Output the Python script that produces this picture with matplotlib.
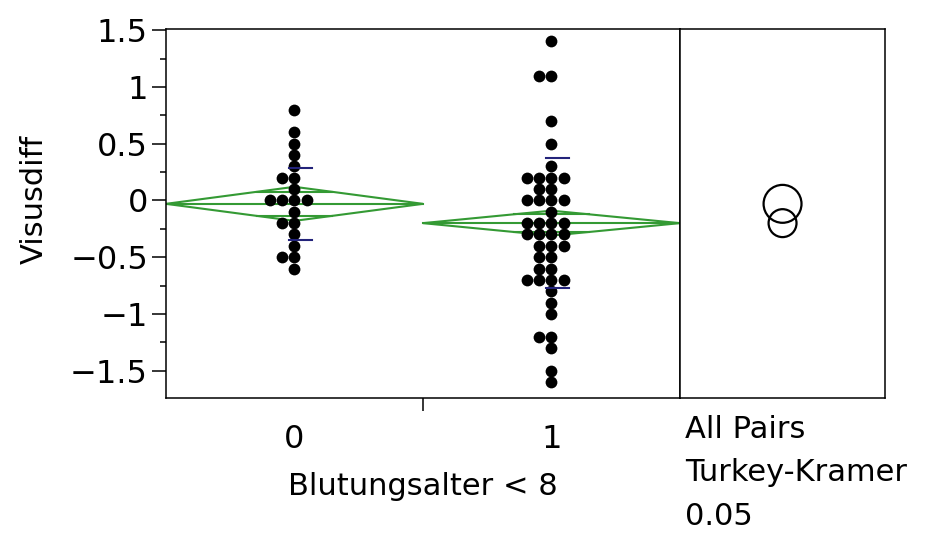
import numpy as np
import matplotlib.pyplot as plt
from matplotlib.patches import Polygon, Circle
from matplotlib.ticker import MultipleLocator, FixedLocator, FuncFormatter

# Visusdiff por grupo de Blutungsalter < 8
grupos = ['0', '1']
visus_0 = [0.8, 0.6, 0.5, 0.4, 0.3, 0.2, 0.2, 0.1, 0.0, 0.0, 0.0, 0.0,
           -0.1, -0.2, -0.2, -0.3, -0.4, -0.5, -0.5, -0.6]
visus_1 = [1.4, 1.1, 1.1, 0.7, 0.5, 0.3, 0.2, 0.2, 0.2, 0.2, 0.1, 0.1,
           0.0, 0.0, 0.0, 0.0, -0.1, -0.2, -0.2, -0.2, -0.2,
           -0.3, -0.3, -0.3, -0.3, -0.4, -0.4, -0.4, -0.5, -0.5,
           -0.6, -0.6, -0.7, -0.7, -0.7, -0.7, -0.8, -0.9, -1.0,
           -1.2, -1.2, -1.3, -1.5, -1.6]

# resumo de cada grupo (media, meia largura do IC 95%, desvio padrao)
medias = [-0.03, -0.20]
ic_meia = [0.15, 0.11]
desvios = [0.32, 0.57]
# raios dos circulos de comparacao (Tukey-Kramer)
raios = [0.167, 0.123]

verde = '#349a34'
azul = '#23237a'


def espalhar(valores, passo=0.047):
    # pontos com o mesmo valor ficam lado a lado
    desloc = np.zeros(len(valores))
    contagem = {}
    for i, v in enumerate(valores):
        k = contagem.get(v, 0)
        contagem[v] = k + 1
        sinal = -1 if k % 2 else 1
        desloc[i] = sinal * ((k + 1) // 2) * passo
    return desloc


fig = plt.figure(figsize=(9.35, 5.33), dpi=100)
ax = fig.add_axes([0.1775, 0.2533, 0.5497, 0.6923])
ax_c = fig.add_axes([0.7273, 0.2533, 0.2193, 0.6923])

centros = [0.5, 1.5]
for c, vals, m, h, s in zip(centros, [visus_0, visus_1], medias, ic_meia, desvios):
    # diamante da media
    diamante = Polygon([(c - 0.5, m), (c, m + h), (c + 0.5, m), (c, m - h)],
                       closed=True, fill=False, edgecolor=verde, lw=1.5, zorder=2)
    ax.add_patch(diamante)
    ax.plot([c - 0.5, c + 0.5], [m, m], color=verde, lw=1.5, zorder=2)
    # overlap marks
    d = 0.5 * (1 - 1 / np.sqrt(2))
    for y in (m + h / np.sqrt(2), m - h / np.sqrt(2)):
        ax.plot([c - d, c + d], [y, y], color=verde, lw=1.5, zorder=2)
    # pontos
    ax.scatter(c + espalhar(vals), vals, s=72, color='black', zorder=3, linewidths=0)
    # desvio padrao
    for y in (m + s, m - s):
        ax.plot([c - 0.02, c + 0.07], [y, y], color=azul, lw=1.5, zorder=4)

ax.set_xlim(0, 2)
ax.set_ylim(-1.74, 1.51)
ax.yaxis.set_major_locator(MultipleLocator(0.5))
ax.yaxis.set_minor_locator(MultipleLocator(0.25))
ax.yaxis.set_major_formatter(FuncFormatter(lambda v, p: ('%g' % v).replace('-', '\u2212')))
ax.tick_params(axis='y', which='major', length=10, width=1.1, labelsize=23, pad=3)
ax.tick_params(axis='y', which='minor', length=4.5, width=1.1)

ax.xaxis.set_major_locator(FixedLocator([1]))
ax.xaxis.set_major_formatter(FuncFormatter(lambda v, p: ''))
ax.xaxis.set_minor_locator(FixedLocator(centros))
ax.set_xticklabels(grupos, minor=True)
ax.tick_params(axis='x', which='major', length=9, width=1.1)
ax.tick_params(axis='x', which='minor', length=0, labelsize=23, pad=19)

ax.set_ylabel('Visusdiff', fontsize=22)
ax.yaxis.set_label_coords(-0.228, 0.539)
ax.set_xlabel('Blutungsalter < 8', fontsize=22, labelpad=12)

for sp in ax.spines.values():
    sp.set_linewidth(1.1)

# circulos de comparacao
ax_c.set_ylim(ax.get_ylim())
alt_px = 0.6923 * 5.33
larg_px = 0.2193 * 9.35
meia_x = (ax.get_ylim()[1] - ax.get_ylim()[0]) * larg_px / alt_px / 2
ax_c.set_xlim(-meia_x, meia_x)
for m, r in zip(medias, raios):
    ax_c.add_patch(Circle((0, m), r, fill=False, edgecolor='black', lw=1.6))
ax_c.set_xticks([])
ax_c.set_yticks([])
for sp in ax_c.spines.values():
    sp.set_linewidth(1.1)

fig.text(0.7326, 0.222, 'All Pairs\nTurkey-Kramer\n0.05', fontsize=22,
         va='top', ha='left', linespacing=1.63)

fig.savefig('out.png', dpi=100)
